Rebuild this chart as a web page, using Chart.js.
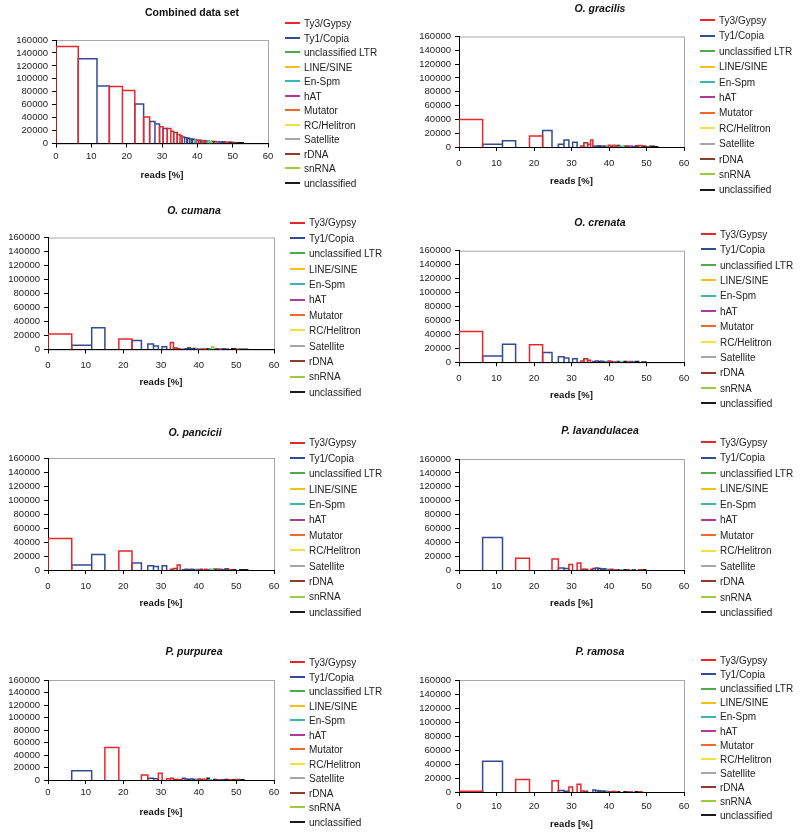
<!DOCTYPE html>
<html>
<head>
<meta charset="utf-8">
<script src="https://cdn.jsdelivr.net/npm/chart.js@4"></script>
<style>
  body { margin: 0; background: #fff; font-family: "Liberation Sans", Arial, sans-serif; }
  #page { position: relative; width: 800px; height: 832px; overflow: hidden; }
  .panel { position: absolute; }
  .legend { position: absolute; left: 0; top: 0; font-size: 10px; color: #222; }
  .legend div { position: absolute; white-space: nowrap; line-height: 12px; }
  .legend span { display: inline-block; width: 15px; height: 2px; vertical-align: middle; margin-right: 4px; position: relative; top: -1px; }
</style>
</head>
<body>
<div id="page"></div>
<script>
const categories = [
  "Ty3/Gypsy", "Ty1/Copia", "unclassified LTR", "LINE/SINE", "En-Spm", "hAT",
  "Mutator", "RC/Helitron", "Satellite", "rDNA", "snRNA", "unclassified",
];
const colors = [
  "#e8262b", "#334a96", "#4fa84a", "#f2c21b", "#3cb6b4", "#b03a9c",
  "#f06a28", "#efe43c", "#a6a6a6", "#8c3b2c", "#9ccb3b", "#1a1a1a",
];

// cluster borders on the x axis (cumulative reads %), one more than clusters
const clusterEdges = [0, 6.3, 11.6, 15.1, 18.8, 22.3, 24.8, 26.5, 28.0, 29.3, 30.3, 31.5,
  32.5, 33.3, 34.3, 35.1, 35.7, 36.4, 37.1, 37.8, 38.5, 39.2, 39.8, 40.4, 41.0, 41.6, 42.2,
  42.8, 43.4, 44.0, 44.7, 45.4, 46.2, 47.0, 47.9, 48.8, 49.8, 50.9, 52.0, 53.0];
// repeat type of each cluster (index into categories)
const clusterType = [0, 1, 1, 0, 0, 1, 0, 1, 1, 0, 1, 0,
  0, 9, 0, 0, 1, 1, 11, 1, 11, 4, 0, 1, 6, 0, 11, 4, 10, 11, 9, 5, 1, 11, 0, 11, 9, 11, 11];

const yTicks = [0, 20000, 40000, 60000, 80000, 100000, 120000, 140000, 160000];
const xTicks = [0, 10, 20, 30, 40, 50, 60];

// reads per cluster
const combinedReads = [150000, 131000, 89000, 88000, 82000, 61000, 41000, 34000, 30000, 26000, 23000, 23000,
  19000, 17000, 14000, 12000, 10000, 9000, 8000, 7000, 6500, 6000, 5500, 5000, 4600, 4200, 4000,
  3700, 3400, 3200, 3000, 2800, 2500, 2200, 2000, 1800, 1500, 1300, 1000];
const gracilisReads = [40000, 4000, 9000, 0, 16000, 24000, 0, 4000, 10000, 0, 7000, 0,
  1500, 6000, 4000, 10000, 1000, 1500, 1500, 1000, 1000, 500, 2500, 1000, 3000, 1500, 2000,
  1000, 500, 1000, 1000, 1500, 500, 1500, 2000, 1000, 500, 1000, 500];
const cumanaReads = [22000, 6000, 31000, 0, 15000, 13000, 0, 8000, 5000, 0, 4000, 0,
  10000, 2000, 1000, 0, 500, 1000, 2000, 1000, 1500, 1000, 500, 500, 1000, 500, 1000,
  1000, 3500, 500, 1000, 500, 1000, 500, 0, 1000, 500, 500, 500];
const crenataReads = [44000, 9000, 26000, 0, 25000, 14000, 0, 8000, 6000, 0, 5000, 0,
  2000, 5000, 3000, 0, 1000, 2000, 1000, 1500, 500, 1000, 2000, 1000, 500, 500, 1000,
  500, 0, 1000, 500, 1000, 500, 1000, 0, 500, 0, 0, 0];
const pancicilReads = [45000, 7000, 22000, 0, 27000, 10000, 0, 6000, 5000, 0, 6000, 0,
  1000, 2000, 7000, 0, 500, 1000, 500, 1000, 500, 1000, 500, 1000, 500, 1000, 500,
  1000, 500, 1000, 1000, 1000, 500, 1500, 500, 500, 0, 500, 500];
const lavandulaceaReads = [0, 47000, 0, 17000, 0, 0, 16000, 3000, 2000, 8000, 0, 10000,
  1000, 1000, 0, 1000, 2000, 3000, 2000, 1500, 1500, 1000, 500, 1000, 500, 500, 500,
  500, 0, 500, 500, 0, 500, 0, 500, 500, 0, 0, 0];
const purpureaReads = [0, 15000, 0, 52000, 0, 0, 8000, 3000, 2000, 11000, 0, 2000,
  3000, 1000, 1000, 1000, 3000, 1500, 1000, 1500, 1000, 1000, 1500, 1000, 1500, 500, 3000,
  500, 0, 1000, 500, 500, 500, 1000, 500, 500, 1000, 500, 0];
const ramosaReads = [1000, 44000, 0, 18000, 0, 0, 16000, 2000, 1000, 7000, 0, 11000,
  1500, 1000, 0, 0, 3000, 2000, 1500, 1000, 1000, 1000, 500, 500, 1000, 500, 500,
  0, 0, 500, 500, 500, 0, 500, 500, 0, 0, 0, 0];

// layout of each panel (pixels, relative to panel corner)
const panels = [
  { title: "Combined data set", italic: false, reads: combinedReads, left: 0, top: 0,
    titleX: 192, titleY: 13.5, plotL: 56, plotR: 268, plotT: 40, plotB: 143.5, tickOff: 13, axisOff: 31.5,
    legendX: 285, legendY: 24, legendStep: 14.5 },
  { title: "O. gracilis", italic: true, reads: gracilisReads, left: 400, top: 0,
    titleX: 200, titleY: 9.5, plotL: 59, plotR: 284, plotT: 36.5, plotB: 147, tickOff: 16, axisOff: 34.5,
    legendX: 300, legendY: 21, legendStep: 15.4 },
  { title: "O. cumana", italic: true, reads: cumanaReads, left: 0, top: 200,
    titleX: 194, titleY: 10.7, plotL: 48, plotR: 274, plotT: 37.5, plotB: 149.5, tickOff: 16, axisOff: 33,
    legendX: 290, legendY: 23.3, legendStep: 15.4 },
  { title: "O. crenata", italic: true, reads: crenataReads, left: 400, top: 200,
    titleX: 200, titleY: 23.3, plotL: 59, plotR: 284, plotT: 50.7, plotB: 162.3, tickOff: 16, axisOff: 33,
    legendX: 301, legendY: 34.7, legendStep: 15.4 },
  { title: "O. pancicii", italic: true, reads: pancicilReads, left: 0, top: 420,
    titleX: 195, titleY: 12.7, plotL: 48, plotR: 274, plotT: 38, plotB: 150, tickOff: 16, axisOff: 33,
    legendX: 290, legendY: 23.3, legendStep: 15.4 },
  { title: "P. lavandulacea", italic: true, reads: lavandulaceaReads, left: 400, top: 420,
    titleX: 200, titleY: 11, plotL: 59, plotR: 284, plotT: 39, plotB: 150, tickOff: 16, axisOff: 33,
    legendX: 301, legendY: 23, legendStep: 15.45 },
  { title: "P. purpurea", italic: true, reads: purpureaReads, left: 0, top: 640,
    titleX: 194, titleY: 12, plotL: 48, plotR: 274, plotT: 40, plotB: 140, tickOff: 12, axisOff: 32,
    legendX: 290, legendY: 23, legendStep: 14.5 },
  { title: "P. ramosa", italic: true, reads: ramosaReads, left: 400, top: 640,
    titleX: 200, titleY: 12, plotL: 59, plotR: 284, plotT: 40, plotB: 152, tickOff: 14, axisOff: 32,
    legendX: 301, legendY: 21, legendStep: 14.1 },
];

Chart.defaults.font.family = '"Liberation Sans", Arial, sans-serif';
Chart.defaults.font.size = 9.5;
Chart.defaults.color = "#222";

// gray frame round the plot area, axes draw black over left/bottom
const frame = {
  id: "frame",
  beforeDraw(chart) {
    const { ctx, chartArea: a } = chart;
    ctx.save();
    ctx.strokeStyle = "#a8a8a8";
    ctx.lineWidth = 1;
    ctx.strokeRect(a.left + 0.5, a.top + 0.5, a.right - a.left, a.bottom - a.top);
    ctx.restore();
  },
};

// one line dataset per repeat type, each cluster an open rectangle
function buildDatasets(reads) {
  return categories.map((name, c) => {
    const pts = [];
    reads.forEach((h, i) => {
      if (clusterType[i] !== c || !h) return;
      const x0 = clusterEdges[i];
      const x1 = clusterEdges[i + 1];
      pts.push({ x: x0, y: 0 }, { x: x0, y: h }, { x: x1, y: h }, { x: x1, y: 0 }, { x: x1, y: null });
    });
    return {
      label: name,
      data: pts,
      borderColor: colors[c],
      borderWidth: 1.5,
      pointRadius: 0,
      fill: false,
      tension: 0,
      spanGaps: false,
    };
  });
}

const page = document.getElementById("page");

panels.forEach((p) => {
  const titleLh = 10.5 * 1.2;
  const xh = p.axisOff + 5.7;
  const height = Math.ceil(p.plotB + xh + 1);
  const padRight = Math.max(0, 400 - 2 * p.titleX);

  const box = document.createElement("div");
  box.className = "panel";
  box.style.left = p.left + "px";
  box.style.top = p.top + "px";
  const canvas = document.createElement("canvas");
  canvas.width = 400;
  canvas.height = height;
  box.appendChild(canvas);

  const legend = document.createElement("div");
  legend.className = "legend";
  categories.forEach((name, i) => {
    const item = document.createElement("div");
    item.style.left = p.legendX + "px";
    item.style.top = (p.legendY + i * p.legendStep - 6) + "px";
    item.innerHTML = `<span style="background:${colors[i]}"></span>${name}`;
    legend.appendChild(item);
  });
  box.appendChild(legend);
  page.appendChild(box);

  new Chart(canvas.getContext("2d"), {
    type: "line",
    data: { datasets: buildDatasets(p.reads) },
    options: {
      responsive: false,
      animation: false,
      events: [],
      layout: {
        padding: { top: p.titleY - titleLh / 2, bottom: height - p.plotB - xh, left: 0, right: padRight },
      },
      plugins: {
        legend: { display: false },
        tooltip: { enabled: false },
        title: {
          display: true,
          text: p.title,
          color: "#111",
          font: { size: 10.5, weight: "bold", style: p.italic ? "italic" : "normal" },
          padding: { top: 0, bottom: p.plotT - p.titleY - titleLh / 2 },
        },
      },
      scales: {
        x: {
          type: "linear",
          min: 0,
          max: 60,
          afterBuildTicks: (s) => { s.ticks = xTicks.map((v) => ({ value: v })); },
          grid: { display: true, drawOnChartArea: false, drawTicks: true, tickLength: 4, color: "#000" },
          border: { color: "#000" },
          ticks: { padding: p.tickOff - 4 - 5.7, maxRotation: 0, autoSkip: false },
          title: { display: true, text: "reads [%]", color: "#111", font: { size: 9.5, weight: "bold" }, padding: 0 },
          afterFit: (s) => { s.height = xh; },
        },
        y: {
          min: 0,
          max: 160000,
          afterBuildTicks: (s) => { s.ticks = yTicks.map((v) => ({ value: v })); },
          grid: { display: true, drawOnChartArea: false, drawTicks: true, tickLength: 4, color: "#000" },
          border: { color: "#000" },
          ticks: { padding: 4, autoSkip: false, callback: (v) => String(v) },
          afterFit: (s) => { s.width = p.plotL; },
        },
        gap: {
          type: "linear",
          position: "right",
          grid: { display: false },
          border: { display: false },
          ticks: { display: false },
          afterFit: (s) => { s.width = 400 - padRight - p.plotR; },
        },
      },
    },
    plugins: [frame],
  });
});
</script>
</body>
</html>
